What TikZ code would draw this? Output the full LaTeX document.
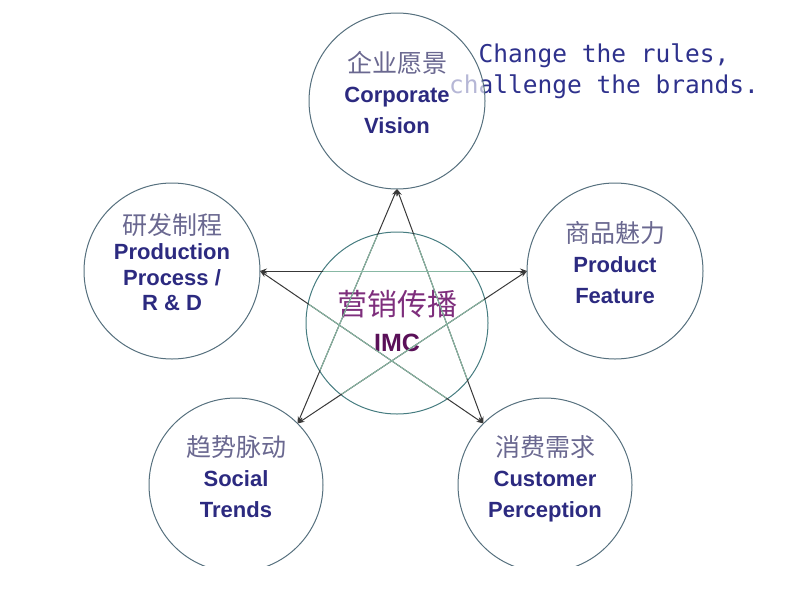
\documentclass[tikz,border=0pt]{standalone}
\usepackage{fontspec}
\setsansfont{Liberation Sans}
\newfontfamily\cjk{Noto Sans CJK SC}
\newfontfamily\slogantt{DejaVu Sans Mono}
\usepackage{tikz}
\usetikzlibrary{
    arrows.meta,
    positioning
}

\definecolor{ringline}{HTML}{56707E}
\definecolor{imcline}{HTML}{467C80}
\definecolor{stardark}{HTML}{383838}
\definecolor{starlight}{HTML}{88B8A4}
\definecolor{cngray}{HTML}{6A6890}
\definecolor{ennavy}{HTML}{2C2A80}
\definecolor{imcpurple}{HTML}{7E2E7C}
\definecolor{imcdark}{HTML}{5A1058}
\definecolor{slogancol}{HTML}{2E318C}

\newcommand{\zh}[1]{{\cjk\mdseries\fontsize{25}{31}\selectfont\color{cngray}#1}}

\begin{document}
\begin{tikzpicture}[
    x=1pt, y=-1pt,
    ring/.style={
        circle,
        draw=ringline,
        line width=1pt,
        minimum size=176pt,
        inner sep=0pt,
        outer sep=0pt,
        align=center,
        text depth=18pt,
        text=ennavy,
        font=\sffamily\bfseries\fontsize{22}{30.5}\selectfont
    },
    starline/.style={
        {Stealth[length=7pt,width=5pt]}-{Stealth[length=7pt,width=5pt]},
        draw=stardark,
        line width=1pt
    }
]

\useasboundingbox (0,0) rectangle (800,600);
\clip (0,0) rectangle (800,565);

% slogan sits under the top circle
\node[anchor=base west, inner sep=0pt, align=left, text=slogancol,
      font=\slogantt\fontsize{24.5}{31}\selectfont] (slogan) at (449,93)
{\hphantom{ch}Change the rules,\\challenge the brands.};

\node[ring, fill=white, fill opacity=0.65, text opacity=1] (vision) at (397,101)
{\zh{企业愿景}\\Corporate\\Vision};

\node[ring] (rd) at (172,271)
{\zh{研发制程}\\[-5pt]Production\\[-5pt]Process /\\[-5pt]R \& D};

\node[ring] (feature) at (615,271)
{\zh{商品魅力}\\Product\\Feature};

\node[ring, minimum size=174pt] (social) at (236,485)
{\zh{趋势脉动}\\Social\\Trends};

\node[ring, minimum size=174pt] (perception) at (545,485)
{\zh{消费需求}\\Customer\\Perception};

\node[ring, draw=imcline, minimum size=182pt, text depth=4pt, text=imcdark,
      font=\sffamily\bfseries\fontsize{25}{36}\selectfont] (imc) at (397,323)
{{\cjk\mdseries\fontsize{30}{36}\selectfont\color{imcpurple}营销传播}\\IMC};

% five-pointed star
\draw[starline] (vision.south) -- (social.45);
\draw[starline] (vision.south) -- (perception.135);
\draw[starline] (rd.east) -- (feature.west);
\draw[starline] (rd.east) -- (perception.135);
\draw[starline] (feature.west) -- (social.45);

\begin{scope}
\clip (imc.center) circle (90);
\draw[starlight, line width=1pt] (vision.south) -- (social.45);
\draw[starlight, line width=1pt] (vision.south) -- (perception.135);
\draw[starlight, line width=1pt] (rd.east) -- (feature.west);
\draw[starlight, line width=1pt] (rd.east) -- (perception.135);
\draw[starlight, line width=1pt] (feature.west) -- (social.45);
\end{scope}

\end{tikzpicture}
\end{document}
